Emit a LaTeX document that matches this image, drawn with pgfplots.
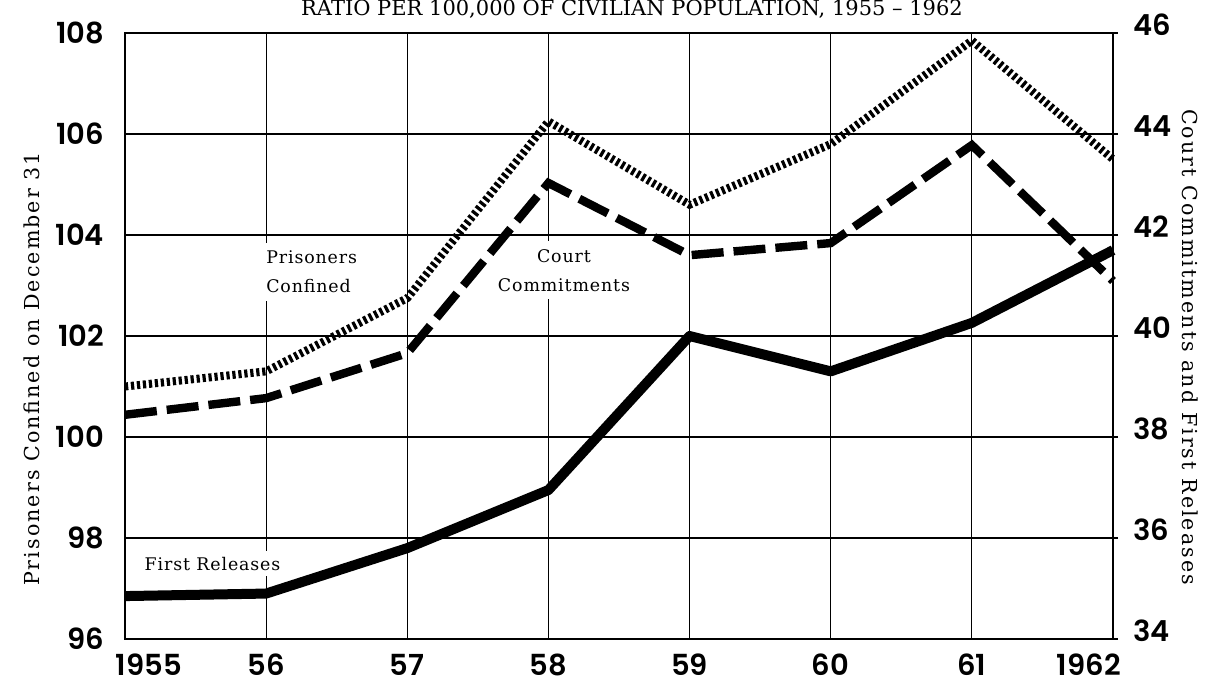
\documentclass[border=0pt]{standalone}
\usepackage{fontspec}
\setmainfont{DejaVu Serif}
\newfontfamily\labelfont{DejaVu Serif}[LetterSpace=10]
\newfontfamily\annfont{DejaVu Serif}[LetterSpace=5]
\newfontfamily\tickfont{Poppins}[BoldFont={Poppins SemiBold}]
\usepackage{pgfplots}
\pgfplotsset{compat=1.18}
\begin{document}
\begin{tikzpicture}
\begin{axis}[name=ax1, scale only axis, width=494pt, height=303pt,
  xmin=1955, xmax=1962, ymin=96, ymax=108,
  xtick={1955,...,1962},
  xticklabels={\hspace*{24pt}1955,56,57,58,59,60,61,1962\hspace*{24pt}},
  ytick={96,98,...,108},
  xtick pos=bottom, ytick pos=left,
  grid=major, grid style={black, line width=0.6pt},
  axis line style={line width=0.9pt},
  major tick length=0pt,
  ticklabel style={font=\tickfont\bfseries\fontsize{14.5}{16}\selectfont},
  xticklabel style={yshift=-4pt},
  yticklabel style={xshift=-7pt},
  /pgf/number format/assume math mode=true,
  /pgf/number format/1000 sep={},
  ylabel={Prisoners Confined on December 31},
  ylabel style={at={(rel axis cs:-0.0941,0.4455)}, anchor=center, font=\labelfont\fontsize{10.3}{12}\selectfont},
  clip=false]
\node[fill=white, inner xsep=2pt, inner ysep=4pt, anchor=west, align=left, font=\annfont\fontsize{8.7}{14.5}\selectfont] at (axis cs:1955.97,103.27) {Prisoners\\Confined};
\node[fill=white, inner xsep=2pt, inner ysep=4pt, anchor=center, align=center, font=\annfont\fontsize{8.7}{14.5}\selectfont] at (axis cs:1958.11,103.3) {Court\\Commitments};
\node[fill=white, inner xsep=2pt, inner ysep=3pt, anchor=center, font=\annfont\fontsize{8.7}{12}\selectfont] at (axis cs:1955.62,97.49) {First Releases};
\addplot[black, line width=4pt, dash pattern=on 1.6pt off 1.4pt] coordinates {
(1955,101.0) (1956,101.3) (1957,102.75) (1958,106.25) (1959,104.6) (1960,105.8) (1961,107.85) (1962,105.5)};
\end{axis}
\begin{axis}[scale only axis, width=494pt, height=303pt,
  xmin=1955, xmax=1962, ymin=34, ymax=46,
  axis x line=none, axis y line*=right,
  ytick={34,36,...,46},
  axis line style={line width=0.9pt},
  major tick length=5pt, tick align=center, tick style={black, line width=0.6pt},
  ticklabel style={font=\tickfont\bfseries\fontsize{14.5}{16}\selectfont},
  yticklabel style={xshift=4pt, yshift=4pt},
  /pgf/number format/assume math mode=true,
  ylabel={Court Commitments and First Releases},
  ylabel style={at={(rel axis cs:1.0779,0.4818)}, anchor=center, rotate=180, font=\labelfont\fontsize{10.3}{12}\selectfont},
  clip=false]
\addplot[black, line width=4.2pt, dash pattern=on 16pt off 5pt] coordinates {
(1955,38.44) (1956,38.77) (1957,39.66) (1958,43.03) (1959,41.6) (1960,41.84) (1961,43.78) (1962,41.09)};
\addplot[black, line width=5pt, line join=round] coordinates {
(1955,34.85) (1956,34.9) (1957,35.8) (1958,36.95) (1959,40.0) (1960,39.3) (1961,40.26) (1962,41.7)};
\end{axis}
\node[anchor=base, font=\fontsize{10.5}{12}\selectfont] at ([xshift=6.5pt,yshift=8.5pt]ax1.north) {RATIO PER 100,000 OF CIVILIAN POPULATION, 1955 -- 1962};
\pgfresetboundingbox
\path[use as bounding box] ([xshift=-62.5pt,yshift=-23pt]ax1.south west) rectangle ([xshift=47.5pt,yshift=16.5pt]ax1.north east);
\end{tikzpicture}
\end{document}
